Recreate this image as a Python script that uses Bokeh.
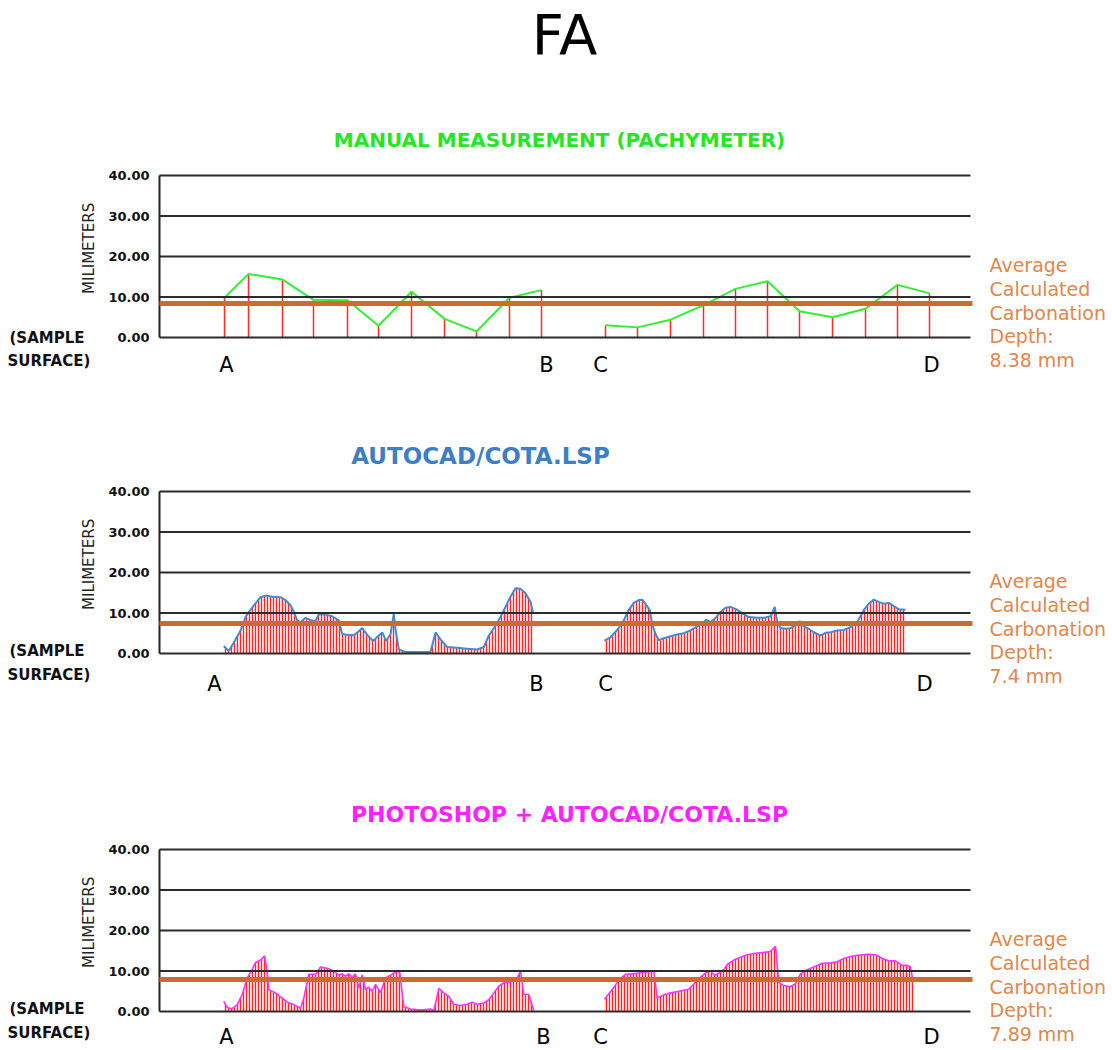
import math
from bokeh.plotting import figure
from bokeh.models import Range1d, FixedTicker, NumeralTickFormatter, Label
from bokeh.layouts import column, row
from bokeh.embed import file_html
from bokeh.resources import INLINE

# ---------------- data (position along the profile, depth in mm) ----------------
avg_depth = [8.38, 7.4, 7.89]
panel_titles = ["MANUAL MEASUREMENT (PACHYMETER)", "AUTOCAD/COTA.LSP",
                "PHOTOSHOP + AUTOCAD/COTA.LSP"]
ytick_values = [0, 10, 20, 30, 40]
point_labels = ["A", "B", "C", "D"]

# panel 1: manual measurement (pachymeter)
manual_ab_pos = [65, 89, 123, 154, 188, 219, 252, 285, 317, 350, 382]
manual_ab_mm = [9.8, 15.7, 14.3, 9.3, 9.2, 2.9, 11.3, 4.6, 1.5, 9.8, 11.7]
manual_cd_pos = [446, 478, 511, 544, 576, 608, 640, 673, 706, 738, 770]
manual_cd_mm = [3.0, 2.5, 4.4, 8.0, 12.0, 13.9, 6.5, 5.0, 7.1, 13.0, 10.9]

# panel 2: AutoCAD / COTA.LSP
cota_ab_pos = [64.3, 69.3, 74.3, 81, 86, 91, 96, 101, 106, 112.7, 121, 126, 131, 134.3,
               137.7, 141, 146, 151, 156, 159.3, 166, 172.7, 179.3, 182.7, 187.7, 194.3,
               199.3, 202.7, 207.7, 213.7, 217.7, 222.7, 226.7, 231, 234.3, 236, 239.3,
               246, 257.7, 271, 276, 281, 287.7, 297.7, 307.7, 317.7, 324.3, 329.3, 336,
               341, 346, 351, 356, 361, 366, 371, 373.7]
cota_ab_mm = [1.85, 0.6, 2.7, 5.6, 9.0, 10.8, 12.4, 13.9, 14.3, 14.0, 13.9, 13.2, 11.9, 10.3,
              8.2, 7.7, 8.8, 8.3, 8.0, 9.7, 9.6, 9.2, 8.2, 4.8, 4.6, 4.5,
              5.5, 6.3, 4.6, 3.1, 4.1, 5.2, 3.1, 4.8, 9.8, 6.1, 1.0,
              0.4, 0.4, 0.4, 5.2, 3.5, 1.6, 1.4, 1.2, 1.0, 1.6, 4.4, 6.9,
              9.0, 11.5, 14.0, 16.1, 16.0, 14.9, 12.8, 9.8]
cota_cd_pos = [445, 451, 457.7, 464.3, 469.3, 474.3, 479.3, 482.7, 486, 490.3, 492.7, 496,
               499.3, 504.3, 511, 517.7, 524.3, 531, 537.7, 542.7, 547, 551, 556, 561, 566,
               571, 577.7, 584.3, 589.3, 597.7, 604.3, 611, 615.3, 617.7, 621, 626, 631,
               636, 640.3, 644.3, 649.3, 654.3, 661, 666, 671, 677.7, 684.3, 691, 697.7,
               704.3, 709.3, 714.3, 719.3, 724.3, 729.3, 734.3, 739.3, 746]
cota_cd_mm = [3.2, 4.0, 5.8, 8.2, 10.8, 12.5, 13.2, 13.3, 12.3, 10.7, 7.3, 4.8,
              3.3, 3.75, 4.25, 4.7, 5.0, 5.7, 6.7, 7.5, 8.3, 7.75, 8.75, 10.25, 11.3,
              11.5, 10.8, 9.7, 9.0, 8.8, 8.8, 9.2, 11.5, 7.75, 6.3, 6.1, 6.25,
              6.9, 8.0, 6.7, 6.1, 5.25, 4.4, 5.1, 5.25, 5.7, 5.8, 6.5, 7.75,
              10.7, 12.3, 13.3, 12.75, 12.3, 12.5, 11.7, 10.9, 10.8]

# panel 3: Photoshop + AutoCAD / COTA.LSP
photo_ab_pos = [64.3, 67.7, 72.7, 77.7, 82.7, 87.7, 92.7, 96, 101, 105, 107.7, 109.3, 116,
                122.7, 127.7, 134.3, 141, 144.3, 149.3, 156, 161, 167.7, 174.3, 179.3,
                182.7, 186, 189.3, 192.7, 196, 199.3, 202.7, 206, 209.3, 212.7, 216, 221,
                226, 232.7, 237.7, 240.3, 244.3, 251, 261, 271, 274.3, 279.3, 284.3, 289.3,
                294.3, 301, 307.7, 312.7, 317.7, 324.3, 329.3, 334.3, 339.3, 344.3, 351,
                357.7, 361, 364.3, 369.3, 374.3]
photo_ab_mm = [2.5, 1.0, 0.7, 1.7, 4.2, 8.3, 10.4, 12.1, 12.7, 13.75, 10.0, 5.4, 4.6,
               3.3, 2.3, 1.7, 0.8, 3.3, 9.2, 9.2, 11.0, 10.7, 10.0, 9.0,
               9.3, 8.75, 9.3, 8.5, 9.3, 5.8, 9.0, 5.4, 6.0, 5.0, 6.7, 4.6,
               8.3, 9.2, 10.0, 9.6, 1.25, 0.6, 0.33, 0.6, 0.2, 5.7, 4.6, 3.75,
               1.8, 1.5, 1.8, 2.3, 1.8, 2.1, 2.9, 4.6, 6.25, 7.1, 7.3,
               8.3, 10.0, 4.3, 4.2, 0.2]
photo_cd_pos = [445, 449.3, 454.3, 459.3, 466, 472.7, 479.3, 486, 494.3, 497.7, 504.3, 511,
                517.7, 524.3, 529.3, 534.3, 541, 546, 551, 555, 559.3, 564.3, 567.7, 574.3,
                581, 587.7, 596, 604.3, 611, 616, 619.3, 624.3, 631, 636, 641, 647.7, 656,
                662.7, 671, 677.7, 684.3, 691, 697.7, 707.7, 716, 722.7, 729.3, 736, 742.7,
                747.7, 751, 753.7]
photo_cd_mm = [3.0, 4.4, 5.9, 7.8, 9.2, 9.3, 9.5, 9.7, 10.0, 3.4, 4.1, 4.6,
               4.9, 5.25, 5.5, 6.8, 8.5, 9.5, 10.0, 8.9, 9.5, 10.3, 11.6, 12.7,
               13.4, 14.0, 14.4, 14.6, 14.8, 16.1, 7.2, 6.4, 6.1, 6.9, 9.3, 10.3, 11.2,
               11.9, 12.0, 12.3, 13.1, 13.6, 13.9, 14.1, 14.0, 13.1, 12.5, 12.5, 11.4,
               11.4, 11.0, 7.2]

# ---------------- styling ----------------
FONT = "DejaVu Sans"
ORANGE = "#cd6a2c"
ORANGE_TEXT = "#e0874d"
K = 4.05          # pixels per mm on the depth axis
LEFT_W = 100      # width of the left text strip
AXIS_W = 59       # room for the tick labels
PLOT_W = 811      # width of the ruled chart area


def lab(p, x, y, text, size, color="black", align="left", style="normal", angle=0.0):
    p.add_layout(Label(x=x, y=y, text=text, text_font=FONT, text_font_size=f"{size}px",
                       text_color=color, text_align=align, text_baseline="middle",
                       text_font_style=style, angle=angle))


def make_panel(fig_h, zero_y, avg, title, title_color, title_x, title_size, letter_x,
               letter_y, sample_y):
    yr = Range1d(-(fig_h - zero_y) / K, zero_y / K)
    # left strip: "(SAMPLE SURFACE)" and the axis caption
    left = figure(width=LEFT_W, height=fig_h, x_range=Range1d(-159, -159 + LEFT_W),
                  y_range=yr, x_axis_location=None, y_axis_location=None,
                  output_backend="svg", toolbar_location=None, min_border=0)
    left.outline_line_color = None
    left.grid.visible = False
    lab(left, -150, sample_y, "(SAMPLE", 15, "#111111", style="bold")
    lab(left, -152, sample_y - 5.8, "SURFACE)", 15, "#111111", style="bold")
    lab(left, -71, 22, "MILIMETERS", 15, "#222222", align="center", angle=math.pi / 2)

    width_main = 1112 - LEFT_W
    p = figure(width=width_main, height=fig_h,
               x_range=Range1d(0, width_main - AXIS_W), y_range=yr,
               x_axis_location=None, output_backend="svg", toolbar_location=None,
               min_border_left=AXIS_W, min_border_right=0, min_border_top=0,
               min_border_bottom=0)
    p.outline_line_color = None
    p.grid.visible = False
    ax = p.yaxis[0]
    ax.ticker = FixedTicker(ticks=ytick_values)
    ax.bounds = (0, 40)
    ax.formatter = NumeralTickFormatter(format="0.00")
    ax.major_tick_line_color = None
    ax.minor_tick_line_color = None
    ax.major_tick_out = 0
    ax.major_tick_in = 0
    ax.axis_line_color = "#222222"
    ax.axis_line_width = 2
    ax.major_label_text_font = FONT
    ax.major_label_text_font_style = "bold"
    ax.major_label_text_font_size = "13px"
    ax.major_label_text_color = "#111111"
    ax.major_label_standoff = 10

    # ruled lines of the chart
    n = len(ytick_values)
    p.segment(x0=[0] * n, y0=ytick_values, x1=[PLOT_W] * n, y1=ytick_values,
              line_color="#2b2b2b", line_width=2, level="guide")
    # average carbonation depth
    p.segment(x0=[0], y0=[avg], x1=[PLOT_W + 2], y1=[avg], line_color=ORANGE,
              line_width=5, level="annotation")

    # titles and labels
    lab(p, title_x, 48.7, title, title_size, title_color, align="center", style="bold")
    for t, x in zip(point_labels, letter_x):
        lab(p, x, letter_y, t, 21, "black", align="center")
    lines = ["Average", "Calculated", "Carbonation", "Depth:", f"{avg} mm"]
    for i, t in enumerate(lines):
        lab(p, 830, 17.8 - i * 5.83, t, 19, ORANGE_TEXT)
    return left, p


l1, p1 = make_panel(400, 337, avg_depth[0], panel_titles[0], "#25e625", 400, 20,
                    [67, 387, 441, 772], -6.9, 0.0)
lab(p1, 405, 74.8, "FA", 56, "black", align="center")
for xs, ys in ((manual_ab_pos, manual_ab_mm), (manual_cd_pos, manual_cd_mm)):
    p1.segment(x0=xs, y0=[0] * len(xs), x1=xs, y1=ys, line_color="#ff2b2b", line_width=1.5)
    p1.line(xs, ys, line_color="#33ee33", line_width=2)

l2, p2 = make_panel(360, 253, avg_depth[1], panel_titles[1], "#3d7fc4", 321, 23,
                    [55, 377, 446, 765], -7.6, 0.6)
for xs, ys in ((cota_ab_pos, cota_ab_mm), (cota_cd_pos, cota_cd_mm)):
    p2.varea(x=xs, y1=[0] * len(xs), y2=ys, fill_color="#ffd4d4",
             hatch_pattern="vertical_line", hatch_color="#ff2525", hatch_scale=3,
             hatch_weight=1)
    p2.line(xs, ys, line_color="#4a88cc", line_width=2)

l3, p3 = make_panel(290, 251, avg_depth[2], panel_titles[2], "#ff22ff", 410, 22,
                    [67, 384, 441, 772], -6.3, 0.6)
for xs, ys in ((photo_ab_pos, photo_ab_mm), (photo_cd_pos, photo_cd_mm)):
    p3.varea(x=xs, y1=[0] * len(xs), y2=ys, fill_color="#ffd4d4",
             hatch_pattern="vertical_line", hatch_color="#ff2525", hatch_scale=3,
             hatch_weight=1)
    p3.line(xs, ys, line_color="#ff33ff", line_width=1.6)

layout = column(row(l1, p1), row(l2, p2), row(l3, p3))
open("out.html", "w").write(file_html(layout, INLINE))
